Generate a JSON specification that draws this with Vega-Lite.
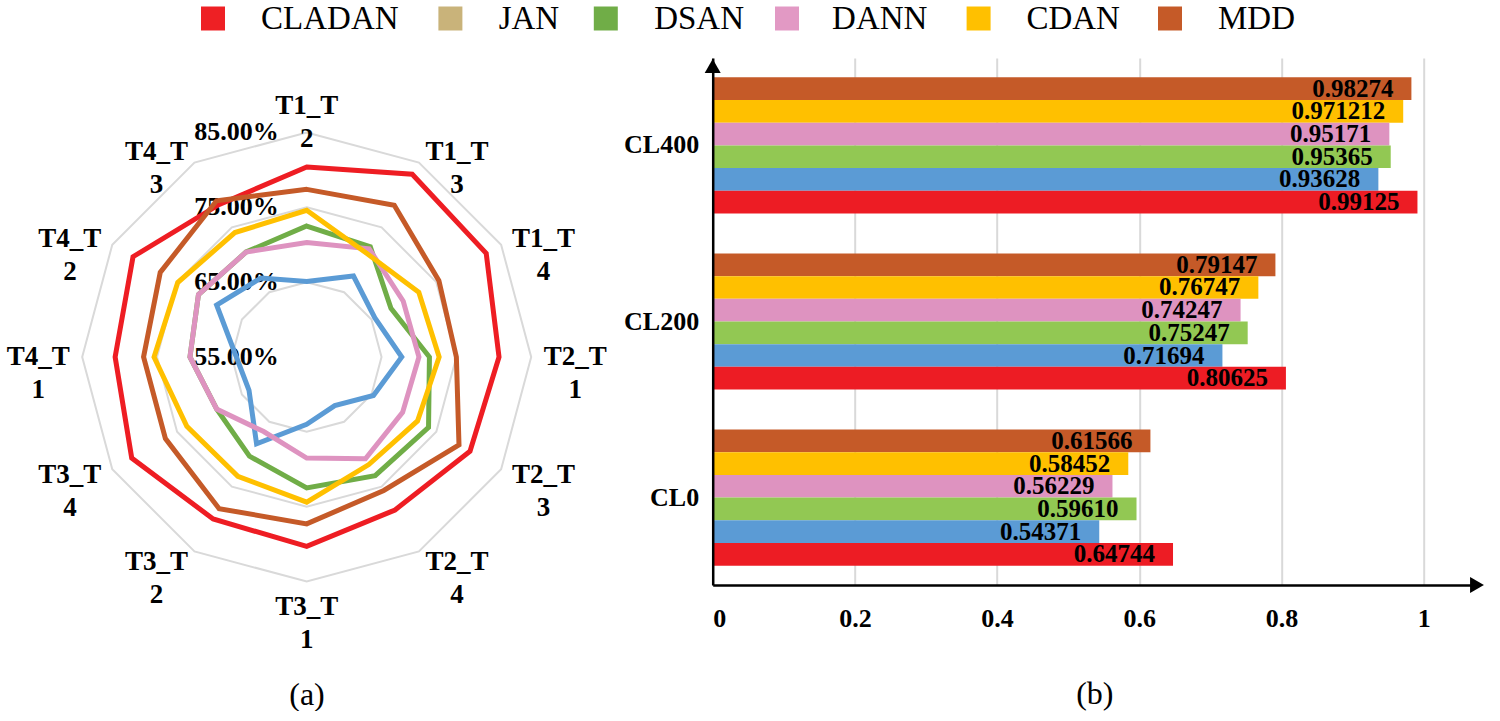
{
  "$schema": "https://vega.github.io/schema/vega-lite/v6.json",
  "background": "white",
  "padding": {"top": 2, "left": 0, "right": 0, "bottom": 0},
  "config": {"view": {"stroke": null}, "font": "Liberation Serif"},
  "spacing": 0,
  "datasets": {
    "radar": [
      {"series": "CLADAN", "idx": 0, "value": 80.4}, {"series": "CLADAN", "idx": 1, "value": 83.2}, {"series": "CLADAN", "idx": 2, "value": 82.7}, {"series": "CLADAN", "idx": 3, "value": 80.7}, {"series": "CLADAN", "idx": 4, "value": 80.2}, {"series": "CLADAN", "idx": 5, "value": 78.6}, {"series": "CLADAN", "idx": 6, "value": 80.3}, {"series": "CLADAN", "idx": 7, "value": 80.0}, {"series": "CLADAN", "idx": 8, "value": 82.0}, {"series": "CLADAN", "idx": 9, "value": 80.6}, {"series": "CLADAN", "idx": 10, "value": 81.8}, {"series": "CLADAN", "idx": 11, "value": 78.5},
      {"series": "JAN", "idx": 0, "value": 65.1}, {"series": "JAN", "idx": 1, "value": 67.5}, {"series": "JAN", "idx": 2, "value": 65.5}, {"series": "JAN", "idx": 3, "value": 67.7}, {"series": "JAN", "idx": 4, "value": 65.3}, {"series": "JAN", "idx": 5, "value": 62.5}, {"series": "JAN", "idx": 6, "value": 64.0}, {"series": "JAN", "idx": 7, "value": 68.4}, {"series": "JAN", "idx": 8, "value": 63.9}, {"series": "JAN", "idx": 9, "value": 64.4}, {"series": "JAN", "idx": 10, "value": 68.9}, {"series": "JAN", "idx": 11, "value": 67.2},
      {"series": "DSAN", "idx": 0, "value": 72.5}, {"series": "DSAN", "idx": 1, "value": 72.0}, {"series": "DSAN", "idx": 2, "value": 68.0}, {"series": "DSAN", "idx": 3, "value": 71.4}, {"series": "DSAN", "idx": 4, "value": 73.8}, {"series": "DSAN", "idx": 5, "value": 73.3}, {"series": "DSAN", "idx": 6, "value": 72.5}, {"series": "DSAN", "idx": 7, "value": 70.3}, {"series": "DSAN", "idx": 8, "value": 68.9}, {"series": "DSAN", "idx": 9, "value": 70.6}, {"series": "DSAN", "idx": 10, "value": 71.7}, {"series": "DSAN", "idx": 11, "value": 71.2},
      {"series": "DANN", "idx": 0, "value": 70.3}, {"series": "DANN", "idx": 1, "value": 71.7}, {"series": "DANN", "idx": 2, "value": 69.9}, {"series": "DANN", "idx": 3, "value": 70.0}, {"series": "DANN", "idx": 4, "value": 69.8}, {"series": "DANN", "idx": 5, "value": 70.7}, {"series": "DANN", "idx": 6, "value": 68.5}, {"series": "DANN", "idx": 7, "value": 66.5}, {"series": "DANN", "idx": 8, "value": 68.9}, {"series": "DANN", "idx": 9, "value": 70.6}, {"series": "DANN", "idx": 10, "value": 71.7}, {"series": "DANN", "idx": 11, "value": 71.2},
      {"series": "CDAN", "idx": 0, "value": 74.6}, {"series": "CDAN", "idx": 1, "value": 71.0}, {"series": "CDAN", "idx": 2, "value": 72.3}, {"series": "CDAN", "idx": 3, "value": 72.7}, {"series": "CDAN", "idx": 4, "value": 72.1}, {"series": "CDAN", "idx": 5, "value": 71.6}, {"series": "CDAN", "idx": 6, "value": 74.4}, {"series": "CDAN", "idx": 7, "value": 73.4}, {"series": "CDAN", "idx": 8, "value": 73.5}, {"series": "CDAN", "idx": 9, "value": 75.4}, {"series": "CDAN", "idx": 10, "value": 74.9}, {"series": "CDAN", "idx": 11, "value": 74.2},
      {"series": "MDD", "idx": 0, "value": 77.4}, {"series": "MDD", "idx": 1, "value": 78.4}, {"series": "MDD", "idx": 2, "value": 75.4}, {"series": "MDD", "idx": 3, "value": 75.0}, {"series": "MDD", "idx": 4, "value": 78.5}, {"series": "MDD", "idx": 5, "value": 75.6}, {"series": "MDD", "idx": 6, "value": 77.3}, {"series": "MDD", "idx": 7, "value": 78.4}, {"series": "MDD", "idx": 8, "value": 76.8}, {"series": "MDD", "idx": 9, "value": 76.8}, {"series": "MDD", "idx": 10, "value": 77.6}, {"series": "MDD", "idx": 11, "value": 79.1}
    ],
    "grid": [
      {"level": 65, "idx": 0}, {"level": 65, "idx": 1}, {"level": 65, "idx": 2}, {"level": 65, "idx": 3}, {"level": 65, "idx": 4}, {"level": 65, "idx": 5}, {"level": 65, "idx": 6}, {"level": 65, "idx": 7}, {"level": 65, "idx": 8}, {"level": 65, "idx": 9}, {"level": 65, "idx": 10}, {"level": 65, "idx": 11},
      {"level": 75, "idx": 0}, {"level": 75, "idx": 1}, {"level": 75, "idx": 2}, {"level": 75, "idx": 3}, {"level": 75, "idx": 4}, {"level": 75, "idx": 5}, {"level": 75, "idx": 6}, {"level": 75, "idx": 7}, {"level": 75, "idx": 8}, {"level": 75, "idx": 9}, {"level": 75, "idx": 10}, {"level": 75, "idx": 11},
      {"level": 85, "idx": 0}, {"level": 85, "idx": 1}, {"level": 85, "idx": 2}, {"level": 85, "idx": 3}, {"level": 85, "idx": 4}, {"level": 85, "idx": 5}, {"level": 85, "idx": 6}, {"level": 85, "idx": 7}, {"level": 85, "idx": 8}, {"level": 85, "idx": 9}, {"level": 85, "idx": 10}, {"level": 85, "idx": 11}
    ],
    "axes": [
      {"idx": 0, "label": "T1_T\n2"}, {"idx": 1, "label": "T1_T\n3"}, {"idx": 2, "label": "T1_T\n4"}, {"idx": 3, "label": "T2_T\n1"}, {"idx": 4, "label": "T2_T\n3"}, {"idx": 5, "label": "T2_T\n4"}, {"idx": 6, "label": "T3_T\n1"}, {"idx": 7, "label": "T3_T\n2"}, {"idx": 8, "label": "T3_T\n4"}, {"idx": 9, "label": "T4_T\n1"}, {"idx": 10, "label": "T4_T\n2"}, {"idx": 11, "label": "T4_T\n3"}
    ],
    "ticks": [
      {"level": 55, "text": "55.00%"}, {"level": 65, "text": "65.00%"}, {"level": 75, "text": "75.00%"}, {"level": 85, "text": "85.00%"}
    ],
    "methods": [
      {"series": "CLADAN"}, {"series": "JAN"}, {"series": "DSAN"}, {"series": "DANN"}, {"series": "CDAN"}, {"series": "MDD"}
    ],
    "bars": [
      {"group": "CL400", "series": "MDD", "acc": 0.98274, "label": "0.98274"},
      {"group": "CL400", "series": "CDAN", "acc": 0.971212, "label": "0.971212"},
      {"group": "CL400", "series": "DANN", "acc": 0.95171, "label": "0.95171"},
      {"group": "CL400", "series": "DSAN", "acc": 0.95365, "label": "0.95365"},
      {"group": "CL400", "series": "JAN", "acc": 0.93628, "label": "0.93628"},
      {"group": "CL400", "series": "CLADAN", "acc": 0.99125, "label": "0.99125"},
      {"group": "CL200", "series": "MDD", "acc": 0.79147, "label": "0.79147"},
      {"group": "CL200", "series": "CDAN", "acc": 0.76747, "label": "0.76747"},
      {"group": "CL200", "series": "DANN", "acc": 0.74247, "label": "0.74247"},
      {"group": "CL200", "series": "DSAN", "acc": 0.75247, "label": "0.75247"},
      {"group": "CL200", "series": "JAN", "acc": 0.71694, "label": "0.71694"},
      {"group": "CL200", "series": "CLADAN", "acc": 0.80625, "label": "0.80625"},
      {"group": "CL0", "series": "MDD", "acc": 0.61566, "label": "0.61566"},
      {"group": "CL0", "series": "CDAN", "acc": 0.58452, "label": "0.58452"},
      {"group": "CL0", "series": "DANN", "acc": 0.56229, "label": "0.56229"},
      {"group": "CL0", "series": "DSAN", "acc": 0.59610, "label": "0.59610"},
      {"group": "CL0", "series": "JAN", "acc": 0.54371, "label": "0.54371"},
      {"group": "CL0", "series": "CLADAN", "acc": 0.64744, "label": "0.64744"}
    ]
  },
  "vconcat": [
    {
      "spacing": 0,
      "bounds": "flush",
      "hconcat": [
        {"width": 186, "height": 33, "data": {"values": [{}]}, "mark": {"type": "text", "text": ""}},
        {"width": 54, "height": 33, "data": {"name": "methods"}, "transform": [{"filter": "datum.series == 'CLADAN'"}], "mark": {"type": "square", "size": 576, "opacity": 1}, "encoding": {"color": {"field": "series", "type": "nominal", "scale": {"domain": ["CLADAN", "JAN", "DSAN", "DANN", "CDAN", "MDD"], "range": ["#EE2024", "#C9B37A", "#70AD47", "#E299C4", "#FFC000", "#C55A28"]}, "legend": null}}},
        {"width": 179.6, "height": 33, "data": {"name": "methods"}, "transform": [{"filter": "datum.series == 'CLADAN'"}], "mark": {"type": "text", "align": "center", "baseline": "middle", "fontSize": 33, "font": "Liberation Serif", "color": "black"}, "encoding": {"text": {"field": "series", "type": "nominal"}}},
        {"width": 60.8, "height": 33, "data": {"name": "methods"}, "transform": [{"filter": "datum.series == 'JAN'"}], "mark": {"type": "square", "size": 576, "opacity": 1}, "encoding": {"color": {"field": "series", "type": "nominal", "scale": {"domain": ["CLADAN", "JAN", "DSAN", "DANN", "CDAN", "MDD"], "range": ["#EE2024", "#C9B37A", "#70AD47", "#E299C4", "#FFC000", "#C55A28"]}, "legend": null}}},
        {"width": 95.8, "height": 33, "data": {"name": "methods"}, "transform": [{"filter": "datum.series == 'JAN'"}], "mark": {"type": "text", "align": "center", "baseline": "middle", "fontSize": 33, "font": "Liberation Serif", "color": "black"}, "encoding": {"text": {"field": "series", "type": "nominal"}}},
        {"width": 57.6, "height": 33, "data": {"name": "methods"}, "transform": [{"filter": "datum.series == 'DSAN'"}], "mark": {"type": "square", "size": 576, "opacity": 1}, "encoding": {"color": {"field": "series", "type": "nominal", "scale": {"domain": ["CLADAN", "JAN", "DSAN", "DANN", "CDAN", "MDD"], "range": ["#EE2024", "#C9B37A", "#70AD47", "#E299C4", "#FFC000", "#C55A28"]}, "legend": null}}},
        {"width": 128.2, "height": 33, "data": {"name": "methods"}, "transform": [{"filter": "datum.series == 'DSAN'"}], "mark": {"type": "text", "align": "center", "baseline": "middle", "fontSize": 33, "font": "Liberation Serif", "color": "black"}, "encoding": {"text": {"field": "series", "type": "nominal"}}},
        {"width": 46, "height": 33, "data": {"name": "methods"}, "transform": [{"filter": "datum.series == 'DANN'"}], "mark": {"type": "square", "size": 576, "opacity": 1}, "encoding": {"color": {"field": "series", "type": "nominal", "scale": {"domain": ["CLADAN", "JAN", "DSAN", "DANN", "CDAN", "MDD"], "range": ["#EE2024", "#C9B37A", "#70AD47", "#E299C4", "#FFC000", "#C55A28"]}, "legend": null}}},
        {"width": 139.4, "height": 33, "data": {"name": "methods"}, "transform": [{"filter": "datum.series == 'DANN'"}], "mark": {"type": "text", "align": "center", "baseline": "middle", "fontSize": 33, "font": "Liberation Serif", "color": "black"}, "encoding": {"text": {"field": "series", "type": "nominal"}}},
        {"width": 57.2, "height": 33, "data": {"name": "methods"}, "transform": [{"filter": "datum.series == 'CDAN'"}], "mark": {"type": "square", "size": 576, "opacity": 1}, "encoding": {"color": {"field": "series", "type": "nominal", "scale": {"domain": ["CLADAN", "JAN", "DSAN", "DANN", "CDAN", "MDD"], "range": ["#EE2024", "#C9B37A", "#70AD47", "#E299C4", "#FFC000", "#C55A28"]}, "legend": null}}},
        {"width": 130.4, "height": 33, "data": {"name": "methods"}, "transform": [{"filter": "datum.series == 'CDAN'"}], "mark": {"type": "text", "align": "center", "baseline": "middle", "fontSize": 33, "font": "Liberation Serif", "color": "black"}, "encoding": {"text": {"field": "series", "type": "nominal"}}},
        {"width": 62, "height": 33, "data": {"name": "methods"}, "transform": [{"filter": "datum.series == 'MDD'"}], "mark": {"type": "square", "size": 576, "opacity": 1}, "encoding": {"color": {"field": "series", "type": "nominal", "scale": {"domain": ["CLADAN", "JAN", "DSAN", "DANN", "CDAN", "MDD"], "range": ["#EE2024", "#C9B37A", "#70AD47", "#E299C4", "#FFC000", "#C55A28"]}, "legend": null}}},
        {"width": 111, "height": 33, "data": {"name": "methods"}, "transform": [{"filter": "datum.series == 'MDD'"}], "mark": {"type": "text", "align": "center", "baseline": "middle", "fontSize": 33, "font": "Liberation Serif", "color": "black"}, "encoding": {"text": {"field": "series", "type": "nominal"}}}
      ]
    },
    {
      "spacing": 98.7,
      "bounds": "flush",
      "center": true,
      "hconcat": [
        {
          "width": 614,
          "height": 571,
          "title": {"text": "(a)", "orient": "bottom", "frame": "group", "anchor": "middle", "offset": 27, "fontSize": 32, "fontWeight": "normal", "font": "Liberation Serif", "color": "black"},
          "layer": [
            {
              "data": {"name": "grid"},
              "transform": [
                {"calculate": "(datum.level-55)/30*sin(datum.idx*PI/6)", "as": "gx"},
                {"calculate": "(datum.level-55)/30*cos(datum.idx*PI/6)", "as": "gy"}
              ],
              "mark": {"type": "line", "interpolate": "linear-closed", "stroke": "#D9D9D9", "strokeWidth": 2},
              "encoding": {
                "x": {"field": "gx", "type": "quantitative", "scale": {"domain": [-1.36615, 1.36882], "nice": false, "zero": false}, "axis": null},
                "y": {"field": "gy", "type": "quantitative", "scale": {"domain": [-1.11359, 1.42984], "nice": false, "zero": false}, "axis": null},
                "detail": {"field": "level", "type": "nominal"},
                "order": {"field": "idx", "type": "quantitative"}
              }
            },
            {
              "data": {"name": "ticks"},
              "transform": [{"calculate": "(datum.level-55)/30", "as": "gy"}],
              "mark": {"type": "text", "align": "right", "baseline": "middle", "dx": -28, "fontSize": 26, "fontWeight": "bold", "font": "Liberation Serif", "color": "black"},
              "encoding": {
                "x": {"datum": 0, "type": "quantitative", "scale": {"domain": [-1.36615, 1.36882], "nice": false, "zero": false}, "axis": null},
                "y": {"field": "gy", "type": "quantitative", "scale": {"domain": [-1.11359, 1.42984], "nice": false, "zero": false}, "axis": null},
                "text": {"field": "text", "type": "nominal"}
              }
            },
            {
              "data": {"name": "radar"},
              "transform": [
                {"calculate": "(datum.value-55)/30*sin(datum.idx*PI/6)", "as": "gx"},
                {"calculate": "(datum.value-55)/30*cos(datum.idx*PI/6)", "as": "gy"}
              ],
              "mark": {"type": "line", "interpolate": "linear-closed", "strokeWidth": 5, "strokeJoin": "miter"},
              "encoding": {
                "x": {"field": "gx", "type": "quantitative", "scale": {"domain": [-1.36615, 1.36882], "nice": false, "zero": false}, "axis": null},
                "y": {"field": "gy", "type": "quantitative", "scale": {"domain": [-1.11359, 1.42984], "nice": false, "zero": false}, "axis": null},
                "stroke": {"field": "series", "type": "nominal", "scale": {"domain": ["CLADAN", "JAN", "DSAN", "DANN", "CDAN", "MDD"], "range": ["#EE1D23", "#5B9BD5", "#70AD47", "#DE93C0", "#FFC000", "#C55A28"]}, "legend": null},
                "order": {"field": "idx", "type": "quantitative"}
              }
            },
            {
              "data": {"name": "axes"},
              "transform": [
                {"filter": "datum.idx == 0"},
                {"calculate": "1.0535*sin(datum.idx*PI/6)", "as": "gx"},
                {"calculate": "1.0535*cos(datum.idx*PI/6)", "as": "gy"}
              ],
              "mark": {"type": "text", "align": "center", "baseline": "bottom", "lineBreak": "\n", "lineHeight": 33, "fontSize": 27, "fontWeight": "bold", "font": "Liberation Serif", "color": "black"},
              "encoding": {
                "x": {"field": "gx", "type": "quantitative", "scale": {"domain": [-1.36615, 1.36882], "nice": false, "zero": false}, "axis": null},
                "y": {"field": "gy", "type": "quantitative", "scale": {"domain": [-1.11359, 1.42984], "nice": false, "zero": false}, "axis": null},
                "text": {"field": "label", "type": "nominal"}
              }
            },
            {
              "data": {"name": "axes"},
              "transform": [
                {"filter": "datum.idx == 6"},
                {"calculate": "1.0535*sin(datum.idx*PI/6)", "as": "gx"},
                {"calculate": "1.0535*cos(datum.idx*PI/6)", "as": "gy"}
              ],
              "mark": {"type": "text", "align": "center", "baseline": "top", "lineBreak": "\n", "lineHeight": 33, "fontSize": 27, "fontWeight": "bold", "font": "Liberation Serif", "color": "black"},
              "encoding": {
                "x": {"field": "gx", "type": "quantitative", "scale": {"domain": [-1.36615, 1.36882], "nice": false, "zero": false}, "axis": null},
                "y": {"field": "gy", "type": "quantitative", "scale": {"domain": [-1.11359, 1.42984], "nice": false, "zero": false}, "axis": null},
                "text": {"field": "label", "type": "nominal"}
              }
            },
            {
              "data": {"name": "axes"},
              "transform": [
                {"filter": "datum.idx > 0 && datum.idx < 6"},
                {"calculate": "1.0535*sin(datum.idx*PI/6)", "as": "gx"},
                {"calculate": "1.0535*cos(datum.idx*PI/6)", "as": "gy"}
              ],
              "mark": {"type": "text", "align": "center", "baseline": "middle", "dx": 32, "lineBreak": "\n", "lineHeight": 33, "fontSize": 27, "fontWeight": "bold", "font": "Liberation Serif", "color": "black"},
              "encoding": {
                "x": {"field": "gx", "type": "quantitative", "scale": {"domain": [-1.36615, 1.36882], "nice": false, "zero": false}, "axis": null},
                "y": {"field": "gy", "type": "quantitative", "scale": {"domain": [-1.11359, 1.42984], "nice": false, "zero": false}, "axis": null},
                "text": {"field": "label", "type": "nominal"}
              }
            },
            {
              "data": {"name": "axes"},
              "transform": [
                {"filter": "datum.idx > 6"},
                {"calculate": "1.0535*sin(datum.idx*PI/6)", "as": "gx"},
                {"calculate": "1.0535*cos(datum.idx*PI/6)", "as": "gy"}
              ],
              "mark": {"type": "text", "align": "center", "baseline": "middle", "dx": -32, "lineBreak": "\n", "lineHeight": 33, "fontSize": 27, "fontWeight": "bold", "font": "Liberation Serif", "color": "black"},
              "encoding": {
                "x": {"field": "gx", "type": "quantitative", "scale": {"domain": [-1.36615, 1.36882], "nice": false, "zero": false}, "axis": null},
                "y": {"field": "gy", "type": "quantitative", "scale": {"domain": [-1.11359, 1.42984], "nice": false, "zero": false}, "axis": null},
                "text": {"field": "label", "type": "nominal"}
              }
            }
          ]
        },
        {
          "width": 764.3,
          "height": 527,
          "data": {"name": "bars"},
          "title": {"text": "(b)", "orient": "bottom", "frame": "group", "anchor": "middle", "offset": 48, "fontSize": 32, "fontWeight": "normal", "font": "Liberation Serif", "color": "black"},
          "layer": [
            {
              "mark": {"type": "bar"},
              "encoding": {
                "x": {"field": "acc", "type": "quantitative", "scale": {"domain": [0, 1.075], "nice": false},
                      "axis": {"title": null, "values": [0, 0.2, 0.4, 0.6, 0.8, 1], "format": "~g", "grid": true, "gridColor": "#D9D9D9", "gridWidth": 2, "ticks": false, "tickSize": 0, "domainColor": "black", "domainWidth": 2.5, "labelFont": "Liberation Serif", "labelFontSize": 26, "labelFontWeight": "bold", "labelColor": "black", "labelPadding": 20}},
                "y": {"field": "group", "type": "nominal", "sort": ["CL400", "CL200", "CL0"], "scale": {"paddingInner": 0.227, "paddingOuter": 0.11},
                      "axis": {"title": null, "ticks": false, "tickSize": 0, "grid": false, "domainColor": "black", "domainWidth": 2.5, "labelFont": "Liberation Serif", "labelFontSize": 26, "labelFontWeight": "bold", "labelColor": "black", "labelPadding": 14, "zindex": 1}},
                "yOffset": {"field": "series", "type": "nominal", "scale": {"domain": ["MDD", "CDAN", "DANN", "DSAN", "JAN", "CLADAN"], "paddingInner": 0, "paddingOuter": 0}},
                "fill": {"field": "series", "type": "nominal", "scale": {"domain": ["CLADAN", "JAN", "DSAN", "DANN", "CDAN", "MDD"], "range": ["#ED1C24", "#5B9BD5", "#92C853", "#DE93C0", "#FFC000", "#C55A28"]}, "legend": null}
              }
            },
            {
              "mark": {"type": "text", "align": "right", "baseline": "middle", "dx": -18, "fontSize": 25, "fontWeight": "bold", "font": "Liberation Serif", "color": "black"},
              "encoding": {
                "x": {"field": "acc", "type": "quantitative", "scale": {"domain": [0, 1.075], "nice": false}},
                "y": {"field": "group", "type": "nominal", "sort": ["CL400", "CL200", "CL0"]},
                "yOffset": {"field": "series", "type": "nominal", "scale": {"domain": ["MDD", "CDAN", "DANN", "DSAN", "JAN", "CLADAN"]}},
                "text": {"field": "label", "type": "nominal"}
              }
            },
            {
              "data": {"values": [{}]},
              "mark": {"type": "point", "shape": "triangle-right", "filled": true, "color": "black", "opacity": 1, "size": 256},
              "encoding": {"x": {"value": "width"}, "y": {"value": "height"}}
            },
            {
              "data": {"values": [{}]},
              "mark": {"type": "point", "shape": "triangle-up", "filled": true, "color": "black", "opacity": 1, "size": 256},
              "encoding": {"x": {"value": 0}, "y": {"value": 8}}
            }
          ]
        }
      ]
    }
  ]
}
